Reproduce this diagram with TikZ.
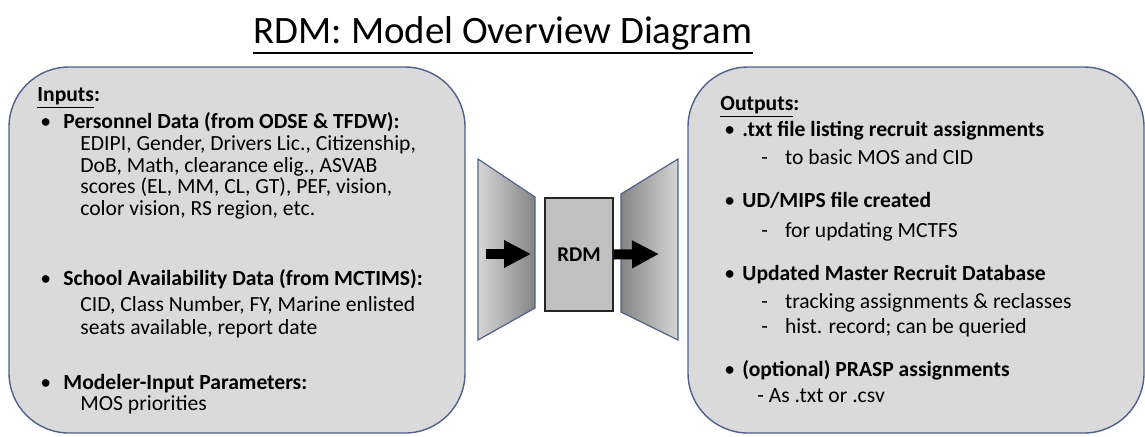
\documentclass[tikz,border=0pt]{standalone}
\usepackage{fontspec}
\setmainfont{Carlito}
\usetikzlibrary{arrows.meta,positioning}
\definecolor{boxfill}{RGB}{218,218,218}
\definecolor{boxline}{RGB}{80,96,140}
\definecolor{corefill}{RGB}{192,192,192}
\definecolor{funlight}{RGB}{214,214,214}
\definecolor{fundark}{RGB}{132,132,132}
\tikzset{
  panel/.style={draw=boxline, fill=boxfill, line width=0.7pt, rounded corners=30pt},
  core/.style={draw=black!85, fill=corefill, line width=0.6pt, minimum width=34pt,
    minimum height=56.5pt, font=\fontsize{10.5}{12}\selectfont\bfseries},
  txt/.style={anchor=base west, inner sep=0pt, font=\fontsize{10.8}{13}\selectfont},
  head/.style={txt, font=\fontsize{10.8}{13}\selectfont\bfseries},
  flow/.style={line width=5pt, -{Triangle[length=13.5pt,width=13pt]}},
}
\begin{document}
\begin{tikzpicture}[x=0.5pt,y=-0.5pt]
\useasboundingbox (0,0) rectangle (1145,436);
% title
\node[anchor=base, inner sep=0pt, font=\fontsize{19.4}{22}\selectfont] (title) at (503,43)
  {RDM: Model Overview Diagram};
\draw[line width=0.9pt] ([yshift=-5pt]title.base west) -- ([yshift=-5pt]title.base east);
% the two panels
\node[panel, minimum width=228pt, minimum height=183pt] (inputs) at (237,250) {};
\node[panel, minimum width=228pt, minimum height=183pt] (outputs) at (916,250) {};
% funnels
\shade[left color=funlight, right color=fundark] (478,159) -- (535,197) -- (535,308) -- (478,340) -- cycle;
\draw[boxline, line width=0.6pt] (478,159) -- (535,197) -- (535,308) -- (478,340) -- cycle;
\shade[left color=fundark, right color=funlight] (621,194) -- (678,159) -- (678,340) -- (621,312) -- cycle;
\draw[boxline, line width=0.6pt] (621,194) -- (678,159) -- (678,340) -- (621,312) -- cycle;
% model
\node[core] (rdm) at (579,254.5) {RDM};
\coordinate (feed) at (486,254);
\coordinate (fed) at (531,254);
\coordinate (out) at (659,254);
\draw[flow] (feed) -- (fed);
\draw[flow] (rdm.east) -- (out);
% inputs text
\node[head] (inhead) at (37,101) {\underline{Inputs}:};
\node[txt] (ib1) at (40,128) {\textbullet};
\node[head] (pers) at (63,128) {Personnel Data (from ODSE \& TFDW):};
\node[txt] (pers1) at (80,150) {EDIPI, Gender, Drivers Lic., Citizenship,};
\node[txt] (pers2) at (80,172) {DoB, Math, clearance elig., ASVAB};
\node[txt] (pers3) at (80,193) {scores (EL, MM, CL, GT), PEF, vision,};
\node[txt] (pers4) at (80,215) {color vision, RS region, etc.};
\node[txt] (ib2) at (40,285) {\textbullet};
\node[head] (school) at (63,285) {School Availability Data (from MCTIMS):};
\node[txt] (school1) at (80,311) {CID, Class Number, FY, Marine enlisted};
\node[txt] (school2) at (80,334) {seats available, report date};
\node[txt] (ib3) at (40,389) {\textbullet};
\node[head] (param) at (63,389) {Modeler-Input Parameters:};
\node[txt] (param1) at (80,410) {MOS priorities};
% outputs text
\node[head] (outhead) at (720,110) {\underline{Outputs}:};
\node[txt] (ob1) at (724,136) {\textbullet};
\node[head] (assign) at (742,136) {.txt file listing recruit assignments};
\node[txt] (assign1) at (761,164) {-\hspace{8.5pt}to basic MOS and CID};
\node[txt] (ob2) at (724,207) {\textbullet};
\node[head] (mips) at (742,207) {UD/MIPS file created};
\node[txt] (mips1) at (761,237) {-\hspace{8.5pt}for updating MCTFS};
\node[txt] (ob3) at (724,280) {\textbullet};
\node[head] (master) at (742,280) {Updated Master Recruit Database};
\node[txt] (master1) at (761,308) {-\hspace{8.5pt}tracking assignments \& reclasses};
\node[txt] (master2) at (761,333) {-\hspace{8.5pt}hist. record; can be queried};
\node[txt] (ob4) at (724,376) {\textbullet};
\node[head] (prasp) at (742,376) {(optional) PRASP assignments};
\node[txt] (prasp1) at (757,402) {- As .txt or .csv};
\end{tikzpicture}
\end{document}
